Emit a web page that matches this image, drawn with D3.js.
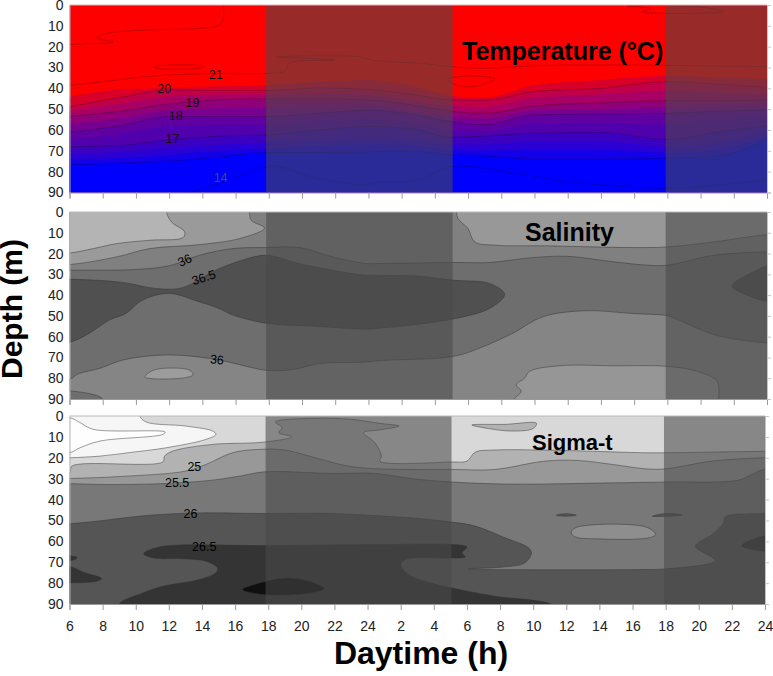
<!DOCTYPE html>
<html>
<head>
<meta charset="utf-8">
<script src="https://cdn.jsdelivr.net/npm/d3@7"></script>
<style>
  html, body { margin: 0; padding: 0; background: #fff; }
  svg { display: block; }
  text { font-family: "Liberation Sans", Arial, sans-serif; }
</style>
</head>
<body>
<div id="chart"></div>
<script>
// x values are hours since the start of the series (06:00), y values are depth in m
const hourLabels = [6, 8, 10, 12, 14, 16, 18, 20, 22, 24, 2, 4, 6, 8, 10, 12, 14, 16, 18, 20, 22, 24];
const depthTicks = [0, 10, 20, 30, 40, 50, 60, 70, 80, 90];
const nightStart = [11.84, 35.9];
const nightEnd = [23.07, 42];

// --- Temperature: depth of each colour edge at the tempHours columns ---
const tempHours = [0, 3, 6, 9, 12, 15, 18, 20.7, 23, 25, 28, 32, 36, 39, 42];
const tempEdge0 = [44, 40.5, 39.8, 39, 38.4, 37, 36, 39, 43.6, 44.5, 38.5, 36, 34, 34.8, 35.6];
const tempEdge1 = [48.8, 44.5, 40.8, 41, 41, 39.8, 40.5, 43, 45.5, 45.7, 41.5, 40, 36.8, 38, 39.5];
const tempEdge2 = [51, 47.5, 44, 43, 43, 42.5, 43, 46, 48.5, 49, 44.5, 43, 41, 42, 43];
const tempEdge3 = [53.5, 51, 47.5, 45.5, 45, 45, 45.6, 48, 51, 52, 48.4, 47, 45.9, 46, 45.5];
const tempEdge4 = [57, 54.5, 50.5, 49.5, 49, 48, 48, 51, 53.5, 54.5, 50.5, 50, 49, 48.5, 48];
const tempEdge5 = [61, 58, 53.5, 53.5, 53.5, 52, 50.5, 52.5, 56, 57.5, 52.7, 52.3, 52, 51, 50.3];
const tempEdge6 = [64.5, 62, 58, 57.5, 57.5, 55.5, 54.5, 57, 60, 60.5, 57, 56.5, 57, 55, 54];
const tempEdge7 = [68, 67.5, 64.7, 63, 62.3, 60, 58.3, 59.5, 63.5, 63, 61.5, 61.2, 64.5, 61, 58];
const tempEdge8 = [71.5, 70.5, 68.5, 67, 66, 64.5, 63.5, 64.5, 67, 67, 65.5, 65.5, 68, 66, 61];
const tempEdge9 = [74, 73.5, 72, 70, 69, 67.5, 67, 67.5, 69.5, 70, 69.5, 69.5, 71, 69.5, 63];
const tempEdge10 = [76.7, 76, 75, 73, 70.8, 70.8, 70.5, 70, 72, 72.5, 74, 74, 73.5, 72.5, 64.7];
const tempEdges = [tempEdge0, tempEdge1, tempEdge2, tempEdge3, tempEdge4, tempEdge5, tempEdge6, tempEdge7, tempEdge8, tempEdge9, tempEdge10];
const tempFills = ["#d80028", "#c00048", "#a80064", "#900078", "#780090", "#6000a0", "#5000ac", "#3c00c0", "#2a00d4", "#1400e8", "#0000ff"];
const tempIsolines = [1, 3, 5, 7, 10]; // edges that have a drawn contour line

const temp21Line = [[0, 38.5], [1.84, 37], [3.84, 35], [5.84, 33.7], [8.44, 33], [11.84, 32.8], [13, 31.6], [13.2, 28], [16, 26.4], [12.44, 25], [17.4, 24.8], [18.4, 26.7], [21.1, 28], [23, 29.6], [24.7, 30.4], [28.7, 29], [36, 29], [42, 29.6]];
const tempTopLine = [[9.24, 0], [9.28, 5.6], [9.04, 9.6], [7.84, 11.2], [4.84, 12], [2.24, 13.6], [1.64, 15.7], [2.64, 17.9], [1.64, 18.4], [0, 19]];
const tempDeepLine = [[7.2, 90], [9.44, 84.7], [11.24, 79], [12.44, 77.5], [14.84, 83], [17.84, 86.3], [18.7, 85], [21, 84], [23, 77.5], [26.7, 80.7], [30, 84.7], [36, 88], [42, 84]];
const tempFreeLines = [temp21Line, tempTopLine, tempDeepLine];
const tempLoop1 = [[5.04, 29.6], [5.6, 29], [7.8, 29], [8.1, 29.6], [7.7, 30.5], [5.4, 30.5]];
const tempLoop2 = [[22.8, 35.7], [23.9, 34.1], [25.6, 35.4], [24.7, 38.6], [23.9, 39.2], [23, 37.5]];
const tempLoop3 = [[33.6, 0.5], [35, 1.6], [34.5, 3.2], [36, 4], [39.4, 3.2], [37.8, 0.8]];
const tempLoops = [tempLoop1, tempLoop2, tempLoop3];
const tempLabelText = ["21", "20", "19", "18", "17", "14"];
const tempLabelH = [8.8, 5.7, 7.4, 6.4, 6.2, 9.1];
const tempLabelD = [33.6, 40.3, 47, 53.3, 64.3, 83];

// --- Salinity: regions painted back to front over salBase ---
const salBase = "#6e6e6e";
const salUpper = [[-3, 28], [0, 28], [3.84, 27.7], [6, 25.9], [7.84, 20.8], [9.84, 17.6], [11.84, 17.1], [13.84, 17.1], [15.84, 21.6], [17.84, 24.8], [18.7, 24.8], [23.1, 24.3], [25.3, 24.3], [27.7, 22.1], [29.9, 21.3], [32.8, 24], [34.8, 25.6], [36, 25.6], [38.8, 20.8], [42, 19.2], [45, 19], [45, -5], [-3, -5]];
const salTopLeft = [[10.84, -5], [10.84, 0], [10.94, 4], [11.74, 7.7], [10.24, 12.8], [7.84, 15.7], [4.84, 17.6], [2.84, 21.6], [0, 25.3], [-3, 25.5], [-3, -5]];
const salLightest = [[5.84, -5], [5.84, 0], [6.14, 4.8], [6.94, 9.6], [6.84, 12.3], [4.84, 13.6], [2.84, 15.2], [1.44, 17.6], [0, 19.7], [-3, 20], [-3, -5]];
const salTopRight = [[23.3, -5], [23.3, 0], [23.4, 3.2], [24, 8], [24.4, 14.4], [25.7, 16], [28.7, 16.3], [33.8, 17.1], [36, 16.8], [38.8, 14.4], [42, 10.9], [45, 10], [45, -5]];
const salCore = [[-3, 32], [0, 32.3], [3.2, 33.9], [5.2, 36.8], [6.8, 36.4], [8.8, 28], [10.4, 23.2], [11.84, 20.8], [13.8, 24.8], [15.8, 28], [17.8, 30.4], [20.7, 30.7], [23.1, 32.8], [25.3, 34.4], [26.2, 39.6], [25.3, 46.4], [23.1, 51.5], [20.7, 54.3], [18.7, 55.9], [17.8, 56.4], [14.8, 55], [11.84, 53.5], [9.84, 49.6], [9, 46.4], [7.8, 43.2], [6, 39.2], [4.4, 42.4], [3.4, 48.8], [2.4, 52], [1.2, 58.3], [0, 62.7], [-3, 64]];
const salCoreRight = [[39.9, 35.6], [41, 29.6], [42, 26], [45, 22], [45, 45], [42, 43], [40.8, 40]];
const salLower = [[-3, 81], [0, 80.5], [0.5, 78], [1.84, 75.2], [3.24, 71.2], [5.84, 68.8], [8.64, 70.7], [11.84, 76.2], [13, 76.2], [13.84, 75.2], [15, 73], [17.84, 72.2], [18.7, 71.5], [23.1, 69.5], [24.7, 65.5], [26.7, 58.3], [28.5, 50.4], [31.1, 47.5], [33.8, 48.8], [36, 49.9], [36.4, 51], [38.8, 59], [40.8, 62], [42, 63], [45, 64], [45, 95], [2, 95], [2, 90], [0, 86], [-3, 86]];
const salBlob = [[4.54, 79.4], [5.04, 76.2], [6.24, 75.1], [7.24, 76.2], [7.44, 78.3], [6.84, 79.9]];
const salBottomRight = [[26.8, 95], [26.8, 90], [27.2, 86.3], [26.9, 83.1], [27.4, 80], [27.7, 76.7], [29.5, 74], [32.8, 74], [36, 74.3], [37.8, 76.7], [39, 81.5], [39.1, 90], [39.1, 95]];
const salRegions = [salUpper, salTopLeft, salLightest, salTopRight, salCore, salCoreRight, salLower, salBlob, salBottomRight];
const salFills = ["#808080", "#9a9a9a", "#b4b4b4", "#989898", "#505050", "#505050", "#858585", "#9c9c9c", "#969696"];
const salLabelText = ["36", "36.5", "36"];
const salLabelH = [6.94, 8.08, 8.88];
const salLabelD = [23.2, 31.5, 71];
const salLabelAngle = [-25, -18, 5];

// --- Sigma-t: regions painted back to front over sigBase ---
const sigBase = "#d8d8d8";
const sigOuterWhite = [[-3, -5], [4.24, -5], [4.24, 0], [4.64, 2.9], [7, 4.8], [8.64, 7.2], [8.84, 8.8], [8.24, 11.2], [5.84, 15.2], [3.84, 17.3], [1.84, 19.2], [0, 20], [-3, 20.5]];
const sigInnerWhite = [[-3, 0.5], [0, 0.8], [0.64, 3.2], [1.44, 6.4], [5.78, 7.7], [5.64, 8.8], [1.84, 12], [0.64, 15.2], [0, 17.6], [-3, 18]];
const sigBand25 = [[-3, 27], [0, 27.2], [0.14, 24], [5.64, 22], [5.74, 19.2], [6.24, 16.8], [8.64, 13.6], [11.74, 12.5], [13.44, 9.9], [12.64, 8], [12.84, 5.6], [12.44, 2.9], [14.84, 1.1], [17, 1.6], [18.7, 3.5], [19.9, 4.8], [18.7, 6.7], [17.76, 8], [18.44, 12.8], [18.84, 19.2], [18.74, 21.6], [23.1, 22], [24, 21.6], [24.5, 17.3], [25.7, 16.3], [28.7, 16.3], [34.8, 17.6], [36, 17.6], [38.8, 17.3], [41.9, 16.9], [45, 16.9], [45, 95], [-3, 95]];
const sigTopBlob = [[24.3, 4.3], [26.3, 4], [28.2, 3.5], [28, 6], [26.7, 7.2], [25.3, 6]];
const sigBand255 = [[-3, 30], [0, 29.9], [3, 29], [7, 26.4], [8.24, 23.2], [9.84, 17.6], [11.44, 16], [13, 16.3], [14.84, 20], [16.84, 24], [18.7, 25.3], [23.1, 25.6], [25.7, 25.6], [28.7, 21.6], [30.7, 21.3], [32.8, 23.2], [34.8, 25.3], [36, 25.3], [38.8, 21.6], [41.9, 20], [45, 19.5], [45, 95], [-3, 95]];
const sigBand26 = [[-3, 32.4], [0, 32.4], [2.24, 32.8], [5.84, 32.3], [8.64, 30.7], [10.24, 28.8], [11.84, 26.7], [15.84, 27.5], [18.44, 27.5], [20.7, 30], [23.1, 31.6], [26.7, 32.6], [32.8, 32], [36, 31.6], [40.4, 30.7], [41.2, 28], [41.9, 25.6], [45, 22], [45, 95], [-3, 95]];
const sigBand265 = [[-3, 52], [0, 51.6], [4.84, 47.5], [7.84, 46.4], [11.84, 46.7], [15.84, 46.7], [18.7, 47.8], [20.7, 48.8], [23.1, 50.8], [24.5, 52.7], [26.3, 58.3], [27.7, 63], [27.9, 65.5], [27.5, 70.3], [26.3, 72.2], [24.1, 73.2], [34.8, 73.5], [36, 73.2], [38.8, 70.3], [39, 69], [38.5, 66.3], [37.8, 62.3], [38.8, 56.7], [39.5, 51.2], [39.6, 48.3], [41.9, 46.7], [45, 46], [45, 95], [-3, 95]];
const sigDeep = [[4.48, 65.9], [5.44, 62.7], [11.84, 62], [18.7, 61.5], [23.1, 61.5], [24, 62.7], [23.7, 65.5], [23.9, 67.5], [23.1, 68], [20.3, 68.7], [20, 71], [20.5, 76], [21.7, 79.6], [23.1, 82.3], [25.7, 86.3], [29.1, 90], [30, 95], [3, 95], [3, 90], [4.44, 84.7], [5.64, 81.5], [7.84, 78.3], [8.84, 75], [8.94, 72.7], [8.24, 69.5], [6.84, 68.3], [5.04, 67.9]];
const sigLeftBlob1 = [[-1, 67.4], [0.44, 67.6], [0.34, 68.7], [-1, 68.8]];
const sigLeftBlob2 = [[-3, 71], [0, 72], [0.84, 74.8], [1.94, 77.8], [1.64, 79.1], [0, 79.9], [-3, 80]];
const sigRightBlob = [[40.6, 62], [41.9, 57.5], [45, 55], [45, 66], [41.9, 64.7], [41.2, 63.9]];
const sigDarkest = [[10.44, 83.1], [11.64, 79.6], [13, 77.5], [14.44, 79], [15.4, 82.6], [14.64, 84.7], [13, 85.8], [11.64, 85.5]];
const sigDash1 = [[29.4, 47.5], [30, 46.8], [30.6, 47.5], [30, 48]];
const sigDash2 = [[35.2, 48], [36, 46.7], [37, 47.4], [36, 48]];
const sigLightBlob = [[30.3, 56], [30.55, 53.5], [34.8, 53.1], [35.4, 56.7], [35, 58.3], [31.75, 58.8], [30.55, 57.9]];
const sigRegions = [sigOuterWhite, sigInnerWhite, sigBand25, sigTopBlob, sigBand255, sigBand26, sigBand265, sigDeep, sigLeftBlob1, sigLeftBlob2, sigRightBlob, sigDarkest, sigDash1, sigDash2, sigLightBlob];
const sigFills = ["#f6f6f6", "#fefefe", "#b2b2b2", "#b2b2b2", "#989898", "#787878", "#555555", "#343434", "#343434", "#343434", "#343434", "#101010", "#555555", "#555555", "#8e8e8e"];
const sigLabelText = ["25", "25.5", "26", "26.5"];
const sigLabelH = [7.54, 6.5, 7.3, 8.14];
const sigLabelD = [24.3, 32, 46.8, 62.3];

// --- Layout ---
const width = 773;
const height = 676;
const plotLeft = 69.5;

const svg = d3.select("#chart")
    .append("svg")
    .attr("width", width)
    .attr("height", height);

const hourTicks = hourLabels.map((d, i) => i * 2);

// one panel: clip group for the marks, axes, night shading, labels
function makePanel(id, top, bottom, plotRight, titleText, titleX, titleY, titleSize, showHours) {
    const x = d3.scaleLinear().domain([0, 42]).range([plotLeft, plotRight]);
    const y = d3.scaleLinear().domain([0, 90]).range([top, bottom]);

    svg.append("clipPath").attr("id", id)
        .append("rect")
        .attr("x", plotLeft).attr("y", top)
        .attr("width", plotRight - plotLeft).attr("height", bottom - top);

    const marks = svg.append("g").attr("clip-path", `url(#${id})`);

    return {
        x: x,
        y: y,
        marks: marks,
        finish: function () {
            // night shading goes over the contours
            nightStart.forEach((start, i) => {
                marks.append("rect")
                    .attr("x", x(start))
                    .attr("y", top)
                    .attr("width", x(nightEnd[i]) - x(start))
                    .attr("height", bottom - top)
                    .attr("fill", "#4a4a4a")
                    .attr("opacity", 0.57);
            });

            const xAxis = d3.axisBottom(x)
                .tickValues(hourTicks)
                .tickSize(6)
                .tickPadding(11)
                .tickFormat((d, i) => showHours ? hourLabels[i] : "");
            const xG = svg.append("g")
                .attr("transform", `translate(0, ${bottom})`)
                .call(xAxis);
            xG.selectAll("line, path").attr("stroke", "#9a9a9a");
            xG.selectAll("text").attr("font-size", 14).attr("fill", "#222");

            const yAxis = d3.axisLeft(y).tickValues(depthTicks).tickSize(0).tickPadding(6);
            const yG = svg.append("g")
                .attr("transform", `translate(${plotLeft}, 0)`)
                .call(yAxis);
            yG.selectAll("path").attr("stroke", "#b0b0b0");
            yG.selectAll("text").attr("font-size", 14).attr("fill", "#222");

            const rightAxis = d3.axisRight(y).tickValues(depthTicks).tickSize(4).tickFormat("");
            const rG = svg.append("g")
                .attr("transform", `translate(${plotRight}, 0)`)
                .call(rightAxis);
            rG.selectAll("line, path").attr("stroke", "#c4c4c4");

            svg.append("line")
                .attr("x1", plotLeft).attr("x2", plotRight)
                .attr("y1", top).attr("y2", top)
                .attr("stroke", id === "tempClip" ? "#e8b0b0" : "#b8b8b8");

            svg.append("text")
                .attr("x", titleX).attr("y", titleY)
                .attr("font-size", titleSize)
                .attr("font-weight", "bold")
                .attr("fill", "#000")
                .text(titleText);
        }
    };
}

function contourLabels(panel, texts, hours, depths, angles, colour) {
    texts.forEach((t, i) => {
        const px = panel.x(hours[i]);
        const py = panel.y(depths[i]);
        svg.append("text")
            .attr("transform", `translate(${px}, ${py}) rotate(${angles ? angles[i] : 0})`)
            .attr("text-anchor", "middle")
            .attr("dy", "0.35em")
            .attr("font-size", 12.5)
            .attr("fill", colour ? colour(t) : "#000")
            .text(t);
    });
}

function paintRegions(panel, baseColour, regions, fills) {
    panel.marks.append("rect")
        .attr("x", panel.x(0)).attr("y", panel.y(0))
        .attr("width", panel.x(42) - panel.x(0))
        .attr("height", panel.y(90) - panel.y(0))
        .attr("fill", baseColour);

    const shape = d3.line()
        .x(d => panel.x(d[0]))
        .y(d => panel.y(d[1]))
        .curve(d3.curveCatmullRomClosed.alpha(0.5));
    regions.forEach((pts, i) => {
        panel.marks.append("path")
            .attr("d", shape(pts))
            .attr("fill", fills[i])
            .attr("stroke", "#333")
            .attr("stroke-opacity", 0.8)
            .attr("stroke-width", 0.6);
    });
}

// --- Temperature ---
const tempPanel = makePanel("tempClip", 5, 192.5, 767, "Temperature (°C)", 462, 60, 25, false);
tempPanel.marks.append("rect")
    .attr("x", tempPanel.x(0)).attr("y", tempPanel.y(0))
    .attr("width", tempPanel.x(42) - tempPanel.x(0))
    .attr("height", tempPanel.y(90) - tempPanel.y(0))
    .attr("fill", "#ff0000");

const tempArea = d3.area()
    .x((d, i) => tempPanel.x(tempHours[i]))
    .y0(tempPanel.y(90))
    .y1(d => tempPanel.y(d))
    .curve(d3.curveMonotoneX);
const tempLine = d3.line()
    .x((d, i) => tempPanel.x(tempHours[i]))
    .y(d => tempPanel.y(d))
    .curve(d3.curveMonotoneX);

function strokeFaint(path) {
    path.attr("fill", "none")
        .attr("stroke", "#000")
        .attr("stroke-opacity", 0.32)
        .attr("stroke-width", 0.7);
}

tempEdges.forEach((edge, i) => {
    tempPanel.marks.append("path")
        .attr("d", tempArea(edge))
        .attr("fill", tempFills[i]);
});
tempIsolines.forEach(i => {
    tempPanel.marks.append("path")
        .attr("d", tempLine(tempEdges[i]))
        .call(strokeFaint);
});
const tempOpen = d3.line()
    .x(d => tempPanel.x(d[0]))
    .y(d => tempPanel.y(d[1]))
    .curve(d3.curveCatmullRom.alpha(0.5));
tempFreeLines.forEach(pts => {
    tempPanel.marks.append("path")
        .attr("d", tempOpen(pts))
        .call(strokeFaint);
});
const tempClosed = d3.line()
    .x(d => tempPanel.x(d[0]))
    .y(d => tempPanel.y(d[1]))
    .curve(d3.curveCatmullRomClosed.alpha(0.5));
tempLoops.forEach(pts => {
    tempPanel.marks.append("path")
        .attr("d", tempClosed(pts))
        .call(strokeFaint);
});
tempPanel.finish();
contourLabels(tempPanel, tempLabelText, tempLabelH, tempLabelD, null, t => t === "14" ? "#44447a" : "#111");

// --- Salinity ---
const salPanel = makePanel("salClip", 212, 399, 767, "Salinity", 525, 241, 25, false);
paintRegions(salPanel, salBase, salRegions, salFills);
salPanel.finish();
contourLabels(salPanel, salLabelText, salLabelH, salLabelD, salLabelAngle);

// --- Sigma-t ---
const sigPanel = makePanel("sigClip", 416, 604, 765, "Sigma-t", 532, 450, 22, true);
paintRegions(sigPanel, sigBase, sigRegions, sigFills);
sigPanel.finish();
contourLabels(sigPanel, sigLabelText, sigLabelH, sigLabelD);

// --- Axis titles ---
svg.append("text")
    .attr("transform", "translate(22, 309) rotate(-90)")
    .attr("text-anchor", "middle")
    .attr("font-size", 30)
    .attr("font-weight", "bold")
    .text("Depth (m)");

svg.append("text")
    .attr("x", 421)
    .attr("y", 664)
    .attr("text-anchor", "middle")
    .attr("font-size", 32)
    .attr("font-weight", "bold")
    .text("Daytime (h)");
</script>
</body>
</html>
